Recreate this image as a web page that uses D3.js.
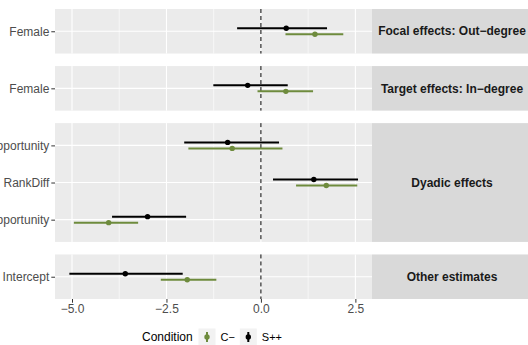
<!DOCTYPE html>
<html>
<head>
<meta charset="utf-8">
<script src="https://cdn.jsdelivr.net/npm/d3@7"></script>
<style>
  body { margin: 0; background: #fff; }
  svg { display: block; font-family: "Liberation Sans", Arial, sans-serif; }
</style>
</head>
<body>
<div id="chart"></div>
<script>
// facets and terms
var facetLabels = ["Focal effects: Out\u2212degree", "Target effects: In\u2212degree", "Dyadic effects", "Other estimates"];
var termLabels = ["Female", "Female", "SocialOpportunity", "RankDiff", "KinOpportunity", "Intercept"];
var termFacet = [0, 1, 2, 2, 2, 3];

// S++ (black)
var sEst  = [0.67, -0.35, -0.88, 1.40, -3.00, -3.59];
var sLow  = [-0.63, -1.26, -2.03, 0.32, -3.94, -5.07];
var sHigh = [1.75, 0.71, 0.48, 2.57, -1.98, -2.07];

// C- (green)
var cEst  = [1.43, 0.66, -0.76, 1.73, -4.03, -1.95];
var cLow  = [0.65, -0.09, -1.92, 0.93, -4.95, -2.65];
var cHigh = [2.18, 1.38, 0.57, 2.55, -3.25, -1.18];

var conditions = ["C\u2212", "S++"];
var condColors = ["#6E8B3D", "#000000"];
var xTicks = [-5, -2.5, 0, 2.5];

var svgWidth = 528, svgHeight = 345;
var panelLeft = 55, panelRight = 372, stripRight = 532;
var plotTop = 9, plotBottom = 299, gap = 12.5;

var svg = d3.select("#chart").append("svg")
  .attr("width", svgWidth)
  .attr("height", svgHeight);

var x = d3.scaleLinear().domain([-5.45, 2.94]).range([panelLeft, panelRight]);

// panel heights proportional to number of terms (free space)
var counts = facetLabels.map(function(f, i) {
  return termFacet.filter(function(t) { return t === i; }).length;
});
var units = counts.map(function(n) { return n - 1 + 1.2; });
var perUnit = (plotBottom - plotTop - gap * (facetLabels.length - 1)) / d3.sum(units);

var panels = [];
var yPos = plotTop;
facetLabels.forEach(function(f, i) {
  var h = units[i] * perUnit;
  var idx = d3.range(termLabels.length).filter(function(t) { return termFacet[t] === i; });
  var y = d3.scalePoint().domain(idx).range([yPos, yPos + h]).padding(0.6);
  panels.push({ label: f, y0: yPos, h: h, terms: idx, y: y });
  yPos += h + gap;
});

var minorTicks = [-3.75, -1.25, 1.25];

panels.forEach(function(p) {
  var g = svg.append("g");

  g.append("rect")
    .attr("x", panelLeft).attr("y", p.y0)
    .attr("width", panelRight - panelLeft).attr("height", p.h)
    .attr("fill", "#EBEBEB");

  g.selectAll(".minor").data(minorTicks).enter().append("line")
    .attr("x1", d => x(d)).attr("x2", d => x(d))
    .attr("y1", p.y0).attr("y2", p.y0 + p.h)
    .attr("stroke", "#fff").attr("stroke-width", 0.6);

  g.selectAll(".major").data(xTicks).enter().append("line")
    .attr("x1", d => x(d)).attr("x2", d => x(d))
    .attr("y1", p.y0).attr("y2", p.y0 + p.h)
    .attr("stroke", "#fff").attr("stroke-width", 1.1);

  g.selectAll(".hgrid").data(p.terms).enter().append("line")
    .attr("x1", panelLeft).attr("x2", panelRight)
    .attr("y1", d => p.y(d)).attr("y2", d => p.y(d))
    .attr("stroke", "#fff").attr("stroke-width", 1.1);

  g.append("line")
    .attr("x1", x(0)).attr("x2", x(0))
    .attr("y1", p.y0).attr("y2", p.y0 + p.h)
    .attr("stroke", "#000").attr("stroke-width", 1)
    .attr("stroke-dasharray", "4,3");

  // y axis
  var yAxis = d3.axisLeft(p.y).tickSize(3.7).tickPadding(2)
    .tickFormat(function(d) { return termLabels[d]; });
  var ya = g.append("g").attr("transform", "translate(" + panelLeft + ",0)").call(yAxis);
  ya.select(".domain").remove();
  ya.selectAll("line").attr("stroke", "#333");
  ya.selectAll("text").attr("fill", "#4D4D4D").style("font-size", "12px")
    .style("font-family", "'Liberation Sans', Arial, sans-serif");

  // strip
  g.append("rect")
    .attr("x", panelRight).attr("y", p.y0)
    .attr("width", stripRight - panelRight).attr("height", p.h)
    .attr("fill", "#D9D9D9");
  g.append("text")
    .attr("x", (panelRight + stripRight) / 2).attr("y", p.y0 + p.h / 2)
    .attr("dy", "0.35em").attr("text-anchor", "middle")
    .style("font-size", "12px").style("font-weight", "bold")
    .attr("fill", "#1A1A1A")
    .text(p.label);

  // point ranges: S++ above, C- below
  var series = [
    { est: sEst, lo: sLow, hi: sHigh, color: condColors[1], off: -3 },
    { est: cEst, lo: cLow, hi: cHigh, color: condColors[0], off: 3 }
  ];
  series.forEach(function(s) {
    g.selectAll(null).data(p.terms).enter().append("line")
      .attr("x1", d => x(s.lo[d])).attr("x2", d => x(s.hi[d]))
      .attr("y1", d => p.y(d) + s.off).attr("y2", d => p.y(d) + s.off)
      .attr("stroke", s.color).attr("stroke-width", 2);
    g.selectAll(null).data(p.terms).enter().append("circle")
      .attr("cx", d => x(s.est[d])).attr("cy", d => p.y(d) + s.off)
      .attr("r", 2.7).attr("fill", s.color);
  });
});

// x axis under the last panel
var xAxis = d3.axisBottom(x).tickValues(xTicks).tickFormat(d3.format(".1f"))
  .tickSize(3.7).tickPadding(2);
var xa = svg.append("g").attr("transform", "translate(0," + plotBottom + ")").call(xAxis);
xa.select(".domain").remove();
xa.selectAll("line").attr("stroke", "#333");
xa.selectAll("text").attr("fill", "#4D4D4D").style("font-size", "12px")
  .style("font-family", "'Liberation Sans', Arial, sans-serif")
  .text(function(d) { return d3.format(".1f")(d).replace("-", "\u2212"); });

// legend
var legY = 337;
var legend = svg.append("g");
legend.append("text")
  .attr("x", 142).attr("y", legY).attr("dy", "0.35em")
  .style("font-size", "12px").attr("fill", "#000")
  .text("Condition");

var keyX = [207, 248.3];
conditions.forEach(function(c, i) {
  var k = legend.append("g").attr("transform", "translate(" + keyX[i] + "," + legY + ")");
  k.append("rect").attr("x", -8.5).attr("y", -8.5).attr("width", 17).attr("height", 17)
    .attr("fill", "#F2F2F2");
  k.append("line").attr("x1", 0).attr("x2", 0).attr("y1", -5).attr("y2", 5)
    .attr("stroke", condColors[i]).attr("stroke-width", 2);
  k.append("circle").attr("r", 2.7).attr("fill", condColors[i]);
  legend.append("text")
    .attr("x", keyX[i] + 13.5).attr("y", legY).attr("dy", "0.35em")
    .style("font-size", "11px").attr("fill", "#000")
    .text(c);
});
</script>
</body>
</html>
